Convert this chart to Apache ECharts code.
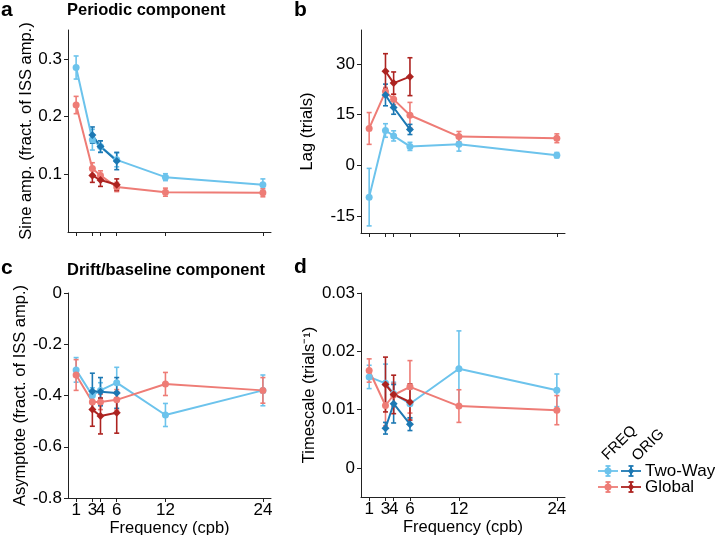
<!DOCTYPE html>
<html>
<head>
<meta charset="utf-8">
<script src="https://cdn.jsdelivr.net/npm/echarts@6/dist/echarts.min.js"></script>
<style>
html, body { margin: 0; padding: 0; background: #fff; }
#chart { width: 715px; height: 535px; }
</style>
</head>
<body>
<div id="chart"></div>
<script>
// frequencies (cycles per block)
const freqX = [1, 3, 4, 6, 12, 24];
const origX = [3, 4, 6];
const xTicks = [1, 3, 4, 6, 12, 24];

// a: sine amplitude
const ampFreqTwoWay = [0.285, 0.160, 0.148, 0.125, 0.095, 0.082];
const ampFreqTwoWayErr = [0.020, 0.018, 0.010, 0.012, 0.006, 0.010];
const ampFreqGlobal = [0.220, 0.110, 0.098, 0.078, 0.069, 0.068];
const ampFreqGlobalErr = [0.015, 0.010, 0.008, 0.008, 0.007, 0.007];
const ampOrigTwoWay = [0.168, 0.148, 0.123];
const ampOrigTwoWayErr = [0.014, 0.010, 0.015];
const ampOrigGlobal = [0.098, 0.090, 0.082];
const ampOrigGlobalErr = [0.012, 0.011, 0.010];

// b: lag
const lagFreqTwoWay = [-9.4, 10.3, 8.7, 5.6, 6.2, 3.0];
const lagFreqTwoWayErr = [8.5, 2.0, 1.5, 1.2, 2.0, 0.8];
const lagFreqGlobal = [10.9, 21.8, 19.5, 14.8, 8.5, 8.0];
const lagFreqGlobalErr = [4.7, 1.2, 1.5, 3.8, 1.5, 1.3];
const lagOrigTwoWay = [20.8, 17.1, 10.6];
const lagOrigTwoWayErr = [3.2, 2.0, 1.5];
const lagOrigGlobal = [27.8, 24.3, 26.2];
const lagOrigGlobalErr = [5.2, 3.3, 5.6];

// c: asymptote
const asyFreqTwoWay = [-0.300, -0.400, -0.380, -0.350, -0.476, -0.380];
const asyFreqTwoWayErr = [0.048, 0.030, 0.030, 0.060, 0.045, 0.060];
const asyFreqGlobal = [-0.320, -0.425, -0.425, -0.417, -0.355, -0.380];
const asyFreqGlobalErr = [0.060, 0.030, 0.030, 0.040, 0.045, 0.050];
const asyOrigTwoWay = [-0.383, -0.385, -0.390];
const asyOrigTwoWayErr = [0.070, 0.055, 0.060];
const asyOrigGlobal = [-0.455, -0.480, -0.467];
const asyOrigGlobalErr = [0.065, 0.070, 0.080];

// d: timescale
const tsFreqTwoWay = [0.0156, 0.0145, 0.0127, 0.0110, 0.0170, 0.0133];
const tsFreqTwoWayErr = [0.0020, 0.0033, 0.0020, 0.0025, 0.0065, 0.0028];
const tsFreqGlobal = [0.0167, 0.0107, 0.0125, 0.0139, 0.0106, 0.0099];
const tsFreqGlobalErr = [0.0020, 0.0035, 0.0020, 0.0045, 0.0028, 0.0025];
const tsOrigTwoWay = [0.0068, 0.0110, 0.0075];
const tsOrigTwoWayErr = [0.0010, 0.0033, 0.0011];
const tsOrigGlobal = [0.0143, 0.0126, 0.0113];
const tsOrigGlobalErr = [0.0047, 0.0033, 0.0031];

const FONT = 'Liberation Sans, Arial, Helvetica, sans-serif';
const lightBlue = '#6cc3ec';
const darkBlue = '#1c78b3';
const salmon = '#ee7c76';
const darkRed = '#ad2320';
const axisColor = '#222';

const chart = echarts.init(document.getElementById('chart'));

function pts(xs, ys, es) {
  return xs.map((x, i) => [x, ys[i], es[i]]);
}

// line + error bars for one group
function group(idx, xs, ys, es, color, symbol, size) {
  const data = pts(xs, ys, es);
  return [
    {
      type: 'line',
      xAxisIndex: idx,
      yAxisIndex: idx,
      data: data.map(d => [d[0], d[1]]),
      symbol: symbol,
      symbolSize: size,
      showSymbol: true,
      lineStyle: { color: color, width: 2 },
      itemStyle: { color: color },
      animation: false
    },
    {
      type: 'custom',
      xAxisIndex: idx,
      yAxisIndex: idx,
      data: data,
      encode: { x: 0, y: 1 },
      animation: false,
      renderItem: function (params, api) {
        const x = api.value(0), m = api.value(1), e = api.value(2);
        const top = api.coord([x, m + e]);
        const bot = api.coord([x, m - e]);
        const w = 2.5;
        const style = { stroke: color, lineWidth: 1.6 };
        return {
          type: 'group',
          children: [
            { type: 'line', shape: { x1: top[0], y1: top[1], x2: bot[0], y2: bot[1] }, style: style },
            { type: 'line', shape: { x1: top[0] - w, y1: top[1], x2: top[0] + w, y2: top[1] }, style: style },
            { type: 'line', shape: { x1: bot[0] - w, y1: bot[1], x2: bot[0] + w, y2: bot[1] }, style: style }
          ]
        };
      }
    }
  ];
}

function xAxis(idx, showLabels) {
  return {
    type: 'value',
    gridIndex: idx,
    min: 0,
    max: 25,
    axisLine: { onZero: false, lineStyle: { color: axisColor, width: 1 } },
    axisTick: { show: true, length: 4, customValues: xTicks, lineStyle: { color: axisColor } },
    axisLabel: { show: showLabels, customValues: xTicks, margin: 4, color: '#000', fontSize: 17, fontFamily: FONT },
    splitLine: { show: false },
    name: showLabels ? 'Frequency (cpb)' : '',
    nameLocation: 'middle',
    nameGap: 14,
    nameTextStyle: { color: '#000', fontSize: 16.5, fontFamily: FONT }
  };
}

function yAxis(idx, min, max, ticks, name, gap) {
  return {
    type: 'value',
    gridIndex: idx,
    min: min,
    max: max,
    axisLine: { show: true, onZero: false, lineStyle: { color: axisColor, width: 1 } },
    axisTick: { show: true, length: 4, customValues: ticks, lineStyle: { color: axisColor } },
    axisLabel: { customValues: ticks, margin: 6, color: '#000', fontSize: 17, fontFamily: FONT },
    splitLine: { show: false },
    name: name,
    nameLocation: 'middle',
    nameRotate: 90,
    nameGap: gap,
    nameTextStyle: { color: '#000', fontSize: 16.5, fontFamily: FONT }
  };
}

function legendSymbol(cx, cy, color, diamond) {
  const s = { stroke: color, lineWidth: 1.8 };
  const items = [
    { type: 'line', shape: { x1: cx - 10, y1: cy, x2: cx + 10, y2: cy }, style: s },
    { type: 'line', shape: { x1: cx, y1: cy - 5, x2: cx, y2: cy + 5 }, style: s },
    { type: 'line', shape: { x1: cx - 2.5, y1: cy - 5, x2: cx + 2.5, y2: cy - 5 }, style: s },
    { type: 'line', shape: { x1: cx - 2.5, y1: cy + 5, x2: cx + 2.5, y2: cy + 5 }, style: s }
  ];
  if (diamond) {
    items.push({ type: 'polygon', shape: { points: [[cx, cy - 4], [cx + 3, cy], [cx, cy + 4], [cx - 3, cy]] }, style: { fill: color } });
  } else {
    items.push({ type: 'circle', shape: { cx: cx, cy: cy, r: 3.5 }, style: { fill: color } });
  }
  return items;
}

const letterStyle = { fontSize: 21, fontWeight: 'bold', fontFamily: FONT, color: '#000', lineHeight: 21 };
const headStyle = { fontSize: 16.5, fontWeight: 'bold', fontFamily: FONT, color: '#000', lineHeight: 16 };

const option = {
  backgroundColor: '#fff',
  animation: false,
  title: [
    { text: 'a', left: 1, top: 0, padding: 0, textStyle: letterStyle },
    { text: 'Periodic component', left: 67, top: 2, padding: 0, textStyle: headStyle },
    { text: 'b', left: 294, top: 0, padding: 0, textStyle: letterStyle },
    { text: 'c', left: 1, top: 258, padding: 0, textStyle: letterStyle },
    { text: 'Drift/baseline component', left: 67, top: 262, padding: 0, textStyle: headStyle },
    { text: 'd', left: 294, top: 257, padding: 0, textStyle: letterStyle }
  ],
  grid: [
    { left: 68, top: 30, width: 203, height: 202, outerBoundsMode: 'none' },
    { left: 361, top: 30, width: 204, height: 203, outerBoundsMode: 'none' },
    { left: 68, top: 293, width: 203, height: 205, outerBoundsMode: 'none' },
    { left: 361, top: 293, width: 204, height: 204, outerBoundsMode: 'none' }
  ],
  xAxis: [xAxis(0, false), xAxis(1, false), xAxis(2, true), xAxis(3, true)],
  yAxis: [
    yAxis(0, 0, 0.35, [0.1, 0.2, 0.3], 'Sine amp. (fract. of ISS amp.)', 33),
    yAxis(1, -20, 40, [-15, 0, 15, 30], 'Lag (trials)', 45),
    yAxis(2, -0.8, 0, [-0.8, -0.6, -0.4, -0.2, 0], 'Asymptote (fract. of ISS amp.)', 37),
    yAxis(3, -0.005, 0.03, [0, 0.01, 0.02, 0.03], 'Timescale (trials\u207B\u00B9)', 39)
  ],
  series: [].concat(
    group(0, freqX, ampFreqTwoWay, ampFreqTwoWayErr, lightBlue, 'circle', 7),
    group(0, freqX, ampFreqGlobal, ampFreqGlobalErr, salmon, 'circle', 7),
    group(0, origX, ampOrigTwoWay, ampOrigTwoWayErr, darkBlue, 'diamond', 8),
    group(0, origX, ampOrigGlobal, ampOrigGlobalErr, darkRed, 'diamond', 8),
    group(1, freqX, lagFreqTwoWay, lagFreqTwoWayErr, lightBlue, 'circle', 7),
    group(1, freqX, lagFreqGlobal, lagFreqGlobalErr, salmon, 'circle', 7),
    group(1, origX, lagOrigTwoWay, lagOrigTwoWayErr, darkBlue, 'diamond', 8),
    group(1, origX, lagOrigGlobal, lagOrigGlobalErr, darkRed, 'diamond', 8),
    group(2, freqX, asyFreqTwoWay, asyFreqTwoWayErr, lightBlue, 'circle', 7),
    group(2, freqX, asyFreqGlobal, asyFreqGlobalErr, salmon, 'circle', 7),
    group(2, origX, asyOrigTwoWay, asyOrigTwoWayErr, darkBlue, 'diamond', 8),
    group(2, origX, asyOrigGlobal, asyOrigGlobalErr, darkRed, 'diamond', 8),
    group(3, freqX, tsFreqTwoWay, tsFreqTwoWayErr, lightBlue, 'circle', 7),
    group(3, freqX, tsFreqGlobal, tsFreqGlobalErr, salmon, 'circle', 7),
    group(3, origX, tsOrigTwoWay, tsOrigTwoWayErr, darkBlue, 'diamond', 8),
    group(3, origX, tsOrigGlobal, tsOrigGlobalErr, darkRed, 'diamond', 8)
  ),
  graphic: [
    { type: 'text', x: 610, y: 463, rotation: Math.PI / 4,
      style: { text: 'FREQ', font: '15px ' + FONT, fill: '#000', textAlign: 'left', textVerticalAlign: 'bottom' } },
    { type: 'text', x: 640, y: 464, rotation: Math.PI / 4,
      style: { text: 'ORIG', font: '15px ' + FONT, fill: '#000', textAlign: 'left', textVerticalAlign: 'bottom' } },
    { type: 'group', children: [].concat(
      legendSymbol(608, 471, lightBlue, false),
      legendSymbol(631, 471, darkBlue, true),
      legendSymbol(608, 487, salmon, false),
      legendSymbol(631, 487, darkRed, true)
    ) },
    { type: 'text', x: 645, y: 471,
      style: { text: 'Two-Way', font: '17px ' + FONT, fill: '#000', textAlign: 'left', textVerticalAlign: 'middle' } },
    { type: 'text', x: 645, y: 487,
      style: { text: 'Global', font: '17px ' + FONT, fill: '#000', textAlign: 'left', textVerticalAlign: 'middle' } }
  ]
};

chart.setOption(option);
</script>
</body>
</html>
